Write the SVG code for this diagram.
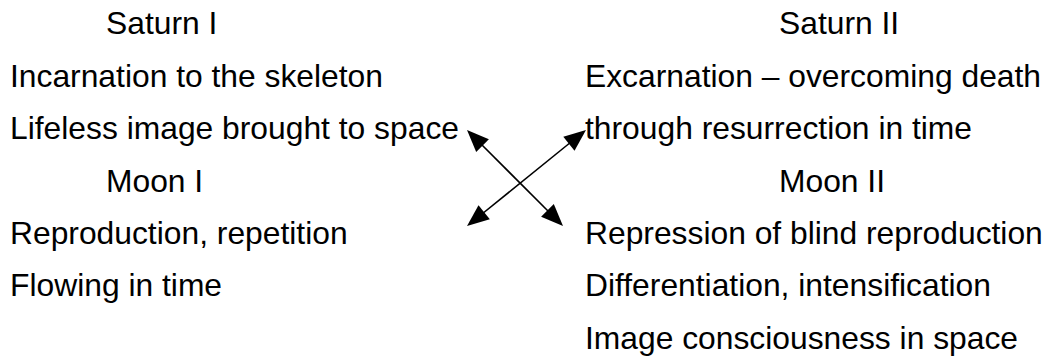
<svg xmlns="http://www.w3.org/2000/svg" width="1054" height="358" viewBox="0 0 1054 358">
  <style>
    text { font-family: "Liberation Sans", Arial, sans-serif; font-size: 31.8px; fill: #000; }
    .link { stroke: #000; stroke-width: 1.6; fill: none; }
    .head { fill: #000; stroke: none; }
  </style>
  <rect width="1054" height="358" fill="#fff"/>

  <!-- left column: first stage -->
  <g id="saturn-1">
    <text x="106" y="34">Saturn I</text>
    <text x="10" y="87">Incarnation to the skeleton</text>
    <text x="10" y="139">Lifeless image brought to space</text>
  </g>
  <g id="moon-1">
    <text x="106" y="192">Moon I</text>
    <text x="10" y="244">Reproduction, repetition</text>
    <text x="10" y="296">Flowing in time</text>
  </g>

  <!-- right column: second stage -->
  <g id="saturn-2">
    <text x="779" y="34">Saturn II</text>
    <text x="585" y="87">Excarnation – overcoming death</text>
    <text x="585" y="139">through resurrection in time</text>
  </g>
  <g id="moon-2">
    <text x="779" y="192">Moon II</text>
    <text x="585" y="244">Repression of blind reproduction</text>
    <text x="585" y="296">Differentiation, intensification</text>
    <text x="585" y="349">Image consciousness in space</text>
  </g>

  <!-- crossing double-headed connectors -->
  <g id="connectors">
    <line class="link" x1="480" y1="143" x2="550" y2="213"/>
    <line class="link" x1="482" y1="214" x2="571" y2="142"/>
    <polygon class="head" points="467,130 476.2,152 488.9,139.2"/>
    <polygon class="head" points="563,226 541.1,216.8 553.8,204"/>
    <polygon class="head" points="467,226 489.8,219.2 478.5,205.2"/>
    <polygon class="head" points="586,130 574.5,150.8 563.3,136.8"/>
  </g>
</svg>
